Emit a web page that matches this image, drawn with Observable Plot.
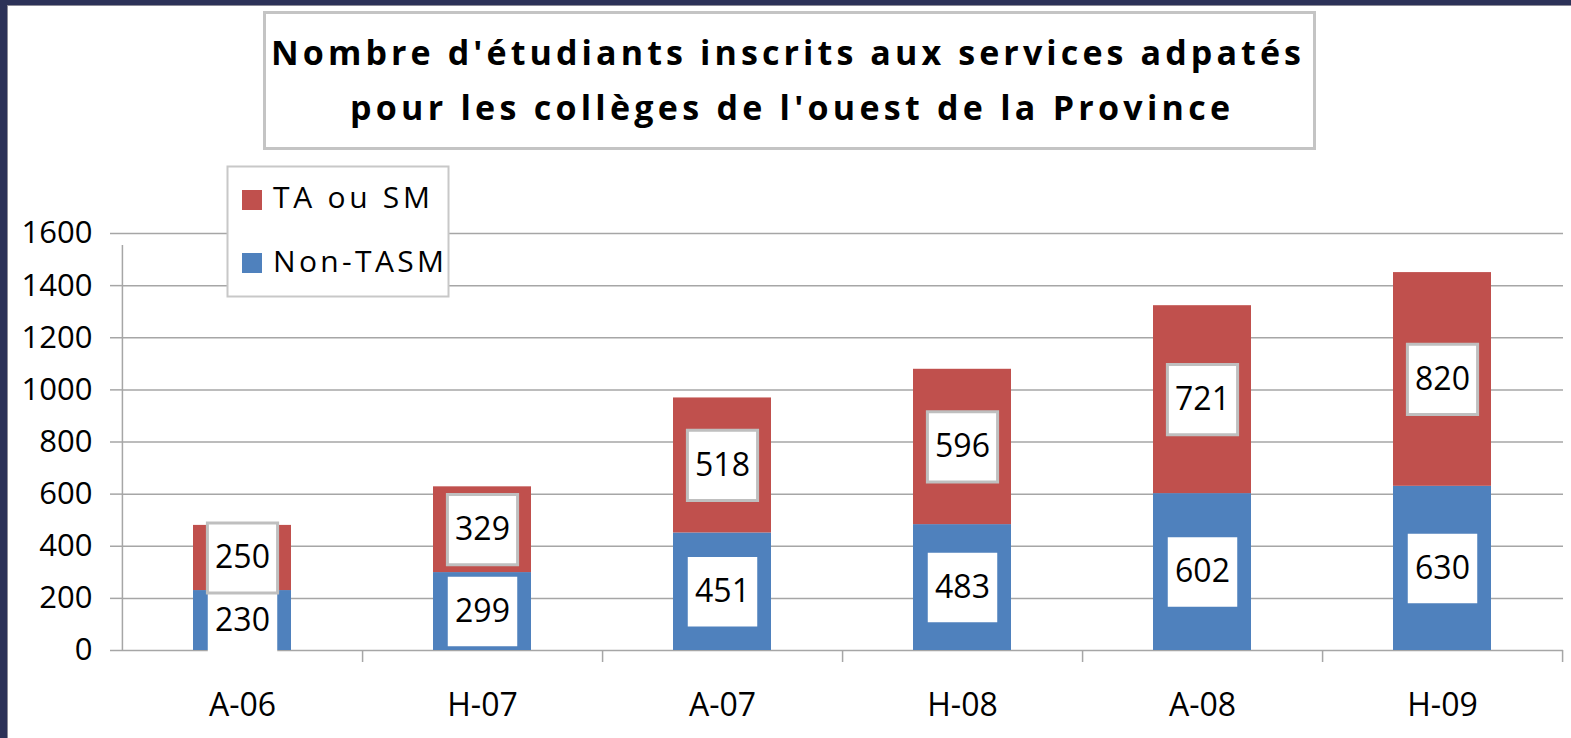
<!DOCTYPE html>
<html>
<head>
<meta charset="utf-8">
<script src="https://cdn.jsdelivr.net/npm/d3@7"></script>
<script src="https://cdn.jsdelivr.net/npm/@observablehq/plot@0.6"></script>
<style>
  body { margin: 0; background: white; }
  #wrap { position: relative; width: 1571px; height: 738px; overflow: hidden; background: white; font-family: "Open Sans", sans-serif; }
  #wrap > svg { position: absolute; left: 0; top: 0; }
</style>
</head>
<body>
<div id="wrap"></div>
<script>
// ---- data ----
const categories = ["A-06", "H-07", "A-07", "H-08", "A-08", "H-09"];
const nonTASM = [230, 299, 451, 483, 602, 630];
const taOuSM = [250, 329, 518, 596, 721, 820];
const seriesNames = ["Non-TASM", "TA ou SM"];
const seriesColors = ["#4f81bd", "#c0504d"];
const yTicks = [0, 200, 400, 600, 800, 1000, 1200, 1400, 1600];
const titleLines = ["Nombre d'étudiants inscrits aux services adpatés", "pour les collèges de l'ouest de la Province"];
const legendOrder = ["TA ou SM", "Non-TASM"];

// table built from the arrays
const rows = [];
categories.forEach((cat, i) => {
  rows.push({cat, series: seriesNames[0], value: nonTASM[i], mid: nonTASM[i] / 2});
  rows.push({cat, series: seriesNames[1], value: taOuSM[i], mid: nonTASM[i] + taOuSM[i] / 2});
});

const W = 1571, H = 738;
const mL = 122, mR = 8, mT = 233, mB = 88;
const step = (W - mL - mR) / categories.length;
const gridColor = "#a6a6a6";

const chart = Plot.plot({
  width: W, height: H,
  marginLeft: mL, marginRight: mR, marginTop: mT, marginBottom: mB,
  style: {background: "transparent", fontFamily: "'Open Sans', sans-serif", overflow: "visible"},
  x: {domain: categories, paddingInner: 0.59, paddingOuter: 0.295, label: null},
  y: {domain: [0, 1600], label: null},
  color: {domain: seriesNames, range: seriesColors},
  marks: [
    Plot.gridY(yTicks, {stroke: gridColor, strokeOpacity: 1, strokeWidth: 1.5}),
    Plot.axisY(yTicks, {tickSize: 12, tickPadding: 18, fontSize: 31, stroke: gridColor, strokeOpacity: 1, strokeWidth: 1.5, fill: "black", tickFormat: d => String(d), label: null}),
    Plot.axisX({tickSize: 0, tickPadding: 43, fontSize: 32, fill: "black", label: null}),
    Plot.ruleX([categories[0]], {x: d => d, dx: -step / 2, y1: 0, y2: 1600, insetBottom: -12, stroke: gridColor, strokeWidth: 1.5}),
    Plot.ruleX(categories, {x: d => d, dx: step / 2, y1: 0, y2: 0, insetBottom: -12, stroke: gridColor, strokeWidth: 1.5}),
    Plot.barY(rows, {x: "cat", y: "value", fill: "series", order: seriesNames}),
    Plot.dot(rows.filter(d => d.series === seriesNames[0]), {x: "cat", y: "mid", symbol: "square", r: 39.2, fill: "white", stroke: "none"}),
    Plot.dot(rows.filter(d => d.series === seriesNames[1]), {x: "cat", y: "mid", symbol: "square", r: 39.6, fill: "white", stroke: "#bfbfbf", strokeWidth: 3}),
    Plot.text(rows, {x: "cat", y: "mid", text: d => String(d.value), fontSize: 32, fill: "black"})
  ]
});
document.getElementById("wrap").appendChild(chart);

// ---- overlay: frame, title box, legend ----
const ov = d3.select("#wrap").append("svg")
  .attr("width", W).attr("height", H)
  .style("font-family", "'Open Sans', sans-serif");

// dark frame on left and top
ov.append("rect").attr("x", 0).attr("y", 0).attr("width", W).attr("height", 5).attr("fill", "#2c3258");
ov.append("rect").attr("x", 0).attr("y", 0).attr("width", 7).attr("height", H).attr("fill", "#2c3258");
ov.append("line").attr("x1", 7.5).attr("x2", 7.5).attr("y1", 5).attr("y2", H).attr("stroke", "#8c8c98").attr("stroke-width", 1);
ov.append("line").attr("x1", 7).attr("x2", W).attr("y1", 5.5).attr("y2", 5.5).attr("stroke", "#8c8c98").attr("stroke-width", 1);

// title box
ov.append("rect").attr("x", 264.5).attr("y", 12.5).attr("width", 1050).attr("height", 136)
  .attr("fill", "white").attr("stroke", "#c4c4c4").attr("stroke-width", 3);
const titlePos = [{x: 271, y: 65, len: 1030}, {x: 350, y: 120, len: 880}];
titleLines.forEach((t, i) => {
  ov.append("text").attr("x", titlePos[i].x).attr("y", titlePos[i].y)
    .attr("textLength", titlePos[i].len).attr("lengthAdjust", "spacing")
    .attr("font-size", 34).attr("font-weight", 700).attr("fill", "black").text(t);
});

// legend
ov.append("rect").attr("x", 227.5).attr("y", 166.5).attr("width", 221).attr("height", 130)
  .attr("fill", "white").attr("stroke", "#c8c8c8").attr("stroke-width", 2);
const legPos = [{sy: 190, ty: 208, len: 157}, {sy: 253, ty: 272, len: 171}];
legendOrder.forEach((name, i) => {
  const color = seriesColors[seriesNames.indexOf(name)];
  ov.append("rect").attr("x", 242).attr("y", legPos[i].sy).attr("width", 20).attr("height", 20).attr("fill", color);
  ov.append("text").attr("x", 273).attr("y", legPos[i].ty)
    .attr("textLength", legPos[i].len).attr("lengthAdjust", "spacing")
    .attr("font-size", 30).attr("fill", "black").text(name);
});
</script>
</body>
</html>
